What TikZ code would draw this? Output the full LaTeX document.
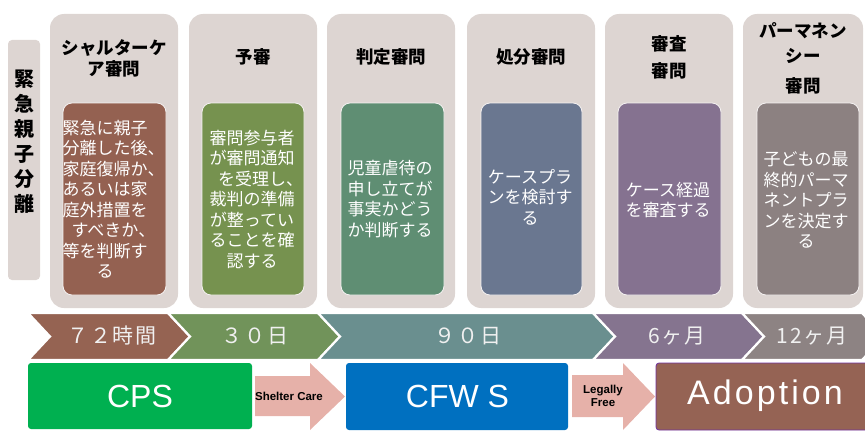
\documentclass[tikz,border=0pt]{standalone}
\usepackage{fontspec}
\setmainfont{Liberation Sans}
\newfontfamily\jp{Noto Sans CJK JP}
\definecolor{colgray}{HTML}{DDD5D2}
\definecolor{inA}{HTML}{946151}
\definecolor{inB}{HTML}{76924F}
\definecolor{inC}{HTML}{5F8E73}
\definecolor{inD}{HTML}{6A7790}
\definecolor{inE}{HTML}{857290}
\definecolor{inF}{HTML}{8C8181}
\definecolor{chA}{HTML}{956352}
\definecolor{chB}{HTML}{71935A}
\definecolor{chC}{HTML}{6A8F8F}
\definecolor{chD}{HTML}{85748F}
\definecolor{chE}{HTML}{8D8383}
\definecolor{cpsgreen}{HTML}{00B050}
\definecolor{cfwsblue}{HTML}{0070C0}
\definecolor{adoptbrown}{HTML}{956354}
\definecolor{adoptborder}{HTML}{7030A0}
\definecolor{arrowpink}{HTML}{E6B1A9}
\begin{document}
\begin{tikzpicture}[x=1pt,y=-1pt,
  colbox/.style={fill=colgray, rounded corners=14pt},
  inbox/.style={draw=white!70!colgray, line width=0.8pt, rounded corners=9pt},
  body/.style={text=white, font=\jp\fontsize{17}{20.5}\selectfont, align=center, inner sep=0pt},
  head/.style={text=black, font=\jp\bfseries\fontsize{17.5}{21}\selectfont, align=center, inner sep=0pt},
  chev/.style={draw=white, line width=2.2pt, line join=miter},
  chevtext/.style={text=white!94!black, font=\jp\addfontfeature{LetterSpace=9}\fontsize{21}{21}\selectfont, inner sep=0pt},
  bigbox/.style={rounded corners=3pt},
  bigtext/.style={text=white, font=\fontsize{32}{32}\selectfont, inner sep=0pt},
  arrowtext/.style={text=black, font=\bfseries\fontsize{11.5}{13}\selectfont, align=center, inner sep=0pt}
]
\useasboundingbox (0,0) rectangle (865,436);
\clip (0,0) rectangle (865,436);

% left vertical label
\fill[colgray, rounded corners=4pt] (8,40) rectangle (40,280);
\node[head, font=\jp\bfseries\fontsize{20}{25}\selectfont] (sep) at (24.5,142) {緊\\急\\親\\子\\分\\離};

% columns
\fill[colbox] (50,14) rectangle (178,308);
\fill[colbox] (189,14) rectangle (317,308);
\fill[colbox] (327,14) rectangle (455,308);
\fill[colbox] (467,14) rectangle (595,308);
\fill[colbox] (605,14) rectangle (733,308);
\fill[colbox] (743,14) rectangle (863,308);

% inner boxes
\filldraw[inbox, fill=inA] (63,103) rectangle (166,295);
\filldraw[inbox, fill=inB] (202,103) rectangle (304,295);
\filldraw[inbox, fill=inC] (341,103) rectangle (444,295);
\filldraw[inbox, fill=inD] (481,103) rectangle (582,295);
\filldraw[inbox, fill=inE] (618,103) rectangle (721,295);
\filldraw[inbox, fill=inF] (757,103) rectangle (859,295);

% headers
\node[head] (h1) at (114,58) {シャルターケ\\ア審問};
\node[head] (h2) at (253,57) {予審};
\node[head] (h3) at (391,57) {判定審問};
\node[head] (h4) at (531,57) {処分審問};
\node[head] (h5) at (669,57) {審査\\[6pt]審問};
\node[head, font=\jp\bfseries\fontsize{17.5}{25}\selectfont] (h6) at (803,58) {パーマネン\\シー\\[5pt]審問};

% body texts
\node[body] (b1) at (105,199) {緊急に親子\\分離した後\rlap{、}\\家庭復帰か\rlap{、}\\あるいは家\\庭外措置を\\すべきか\rlap{、}\\等を判断す\\る};
\node[body] (b2) at (252,199) {審問参与者\\が審問通知\\を受理し\rlap{、}\\裁判の準備\\が整ってい\\ることを確\\認する};
\node[body] (b3) at (390,199) {児童虐待の\\申し立てが\\事実かどう\\か判断する};
\node[body] (b4) at (530,197) {ケースプラ\\ンを検討す\\る};
\node[body] (b5) at (668,200) {ケース経過\\を審査する};
\node[body] (b6) at (806,200) {子どもの最\\終的パーマ\\ネントプラ\\ンを決定す\\る};

% chevrons
\filldraw[chev, fill=chA] (28,313) -- (168,313) -- (190,336.5) -- (168,360) -- (28,360) -- (50,336.5) -- cycle;
\filldraw[chev, fill=chB] (168,313) -- (318,313) -- (340,336.5) -- (318,360) -- (168,360) -- (190,336.5) -- cycle;
\filldraw[chev, fill=chC] (318,313) -- (593,313) -- (615,336.5) -- (593,360) -- (318,360) -- (340,336.5) -- cycle;
\filldraw[chev, fill=chD] (593,313) -- (742,313) -- (764,336.5) -- (742,360) -- (593,360) -- (615,336.5) -- cycle;
\filldraw[chev, fill=chE] (742,313) -- (862,313) -- (884,336.5) -- (862,360) -- (742,360) -- (764,336.5) -- cycle;

\node[chevtext] (t1) at (112,336) {７２時間};
\node[chevtext] (t2) at (255,336) {３０日};
\node[chevtext] (t3) at (468,336) {９０日};
\node[chevtext] (t4) at (677,336) {6ヶ月};
\node[chevtext] (t5) at (812,336) {12ヶ月};

% bottom row
\fill[bigbox, fill=cpsgreen] (28,363) rectangle (252,429);
\node[bigtext] (cps) at (140,396) {CPS};

\fill[arrowpink] (255,376) -- (310,376) -- (310,363) -- (345,396.5) -- (310,430) -- (310,416) -- (255,416) -- cycle;
\node[arrowtext] (shelter) at (289,396) {Shelter Care};

\fill[bigbox, fill=cfwsblue] (346,363) rectangle (568,430);
\node[bigtext] (cfws) at (457.5,396) {CFW S};

\fill[arrowpink] (572,375) -- (623,375) -- (623,363) -- (655,396.5) -- (623,430) -- (623,417) -- (572,417) -- cycle;
\node[arrowtext] (legal) at (603,396) {Legally\\Free};

\filldraw[bigbox, fill=adoptbrown, draw=adoptborder, line width=0.8pt] (656,363) rectangle (880,430);
\node[bigtext, font=\addfontfeature{LetterSpace=9}\fontsize{34}{34}\selectfont] (adopt) at (765,396) {Adoption};
\end{tikzpicture}
\end{document}
